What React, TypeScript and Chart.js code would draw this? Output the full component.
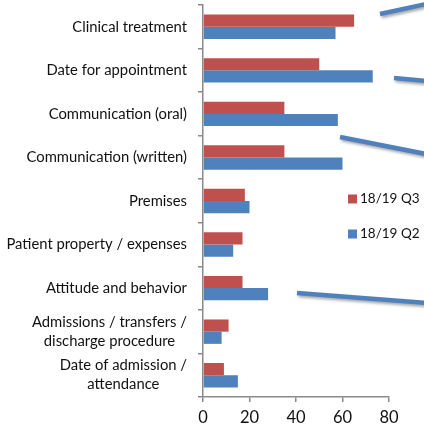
import React, { useEffect, useRef } from "react";
import { Chart, registerables } from "chart.js";

Chart.register(...registerables);

// Complaint categories (multi-line labels are arrays)
const categories: (string | string[])[] = [
  "Clinical treatment",
  "Date for appointment",
  "Communication (oral)",
  "Communication (written)",
  "Premises",
  "Patient property / expenses",
  "Attitude and behavior",
  ["Admissions / transfers /", "discharge procedure"],
  ["Date of admission /", "attendance"],
];

const seriesNames = ["18/19 Q3", "18/19 Q2"];
const q3Values = [65, 50, 35, 35, 18, 17, 17, 11, 9];
const q2Values = [57, 73, 58, 60, 20, 13, 28, 8, 15];
const xTicks = [0, 20, 40, 60, 80];

const RED = "#C0504D";
const BLUE = "#4F81BD";
const AXIS = "#8a8a8a";
const FONT = "Lato, 'Open Sans', sans-serif";

// Category labels: block right-aligned to the axis, lines centred inside the block
const categoryLabels = {
  id: "categoryLabels",
  afterDraw(chart: any) {
    const { ctx } = chart;
    const y = chart.scales.y;
    ctx.save();
    ctx.font = `14.8px ${FONT}`;
    ctx.fillStyle = "#111";
    ctx.textBaseline = "middle";
    ctx.textAlign = "center";
    const right = chart.chartArea.left - 16;
    const lh = 19;
    categories.forEach((lab, i) => {
      const lines = Array.isArray(lab) ? lab : [lab];
      const w = Math.max(...lines.map((l) => ctx.measureText(l).width));
      const cx = right - w / 2;
      const cy = y.getPixelForValue(i);
      lines.forEach((l, k) => {
        ctx.fillText(l, cx, cy - ((lines.length - 1) * lh) / 2 + k * lh);
      });
    });
    ctx.restore();
  },
};

// Legend placed inside the plot area on the right
const innerLegend = {
  id: "innerLegend",
  afterDraw(chart: any) {
    const { ctx } = chart;
    ctx.save();
    ctx.font = `13.5px ${FONT}`;
    ctx.textBaseline = "middle";
    ctx.textAlign = "left";
    const colors = [RED, BLUE];
    seriesNames.forEach((name, i) => {
      const cy = 199 + i * 35;
      ctx.fillStyle = colors[i];
      ctx.fillRect(348, cy - 4.5, 9, 9);
      ctx.fillStyle = "#111";
      ctx.fillText(name, 360, cy);
    });
    ctx.restore();
  },
};

// Connector strokes running off the right edge
const connectors = {
  id: "connectors",
  afterDraw(chart: any) {
    const { ctx } = chart;
    const segs = [
      [380, 14, 426, 4],
      [394, 78, 426, 81],
      [340, 137, 426, 154],
      [297, 293, 426, 303],
    ];
    ctx.save();
    ctx.strokeStyle = BLUE;
    ctx.lineWidth = 4.5;
    ctx.lineCap = "butt";
    ctx.shadowColor = "rgba(0,0,0,0.35)";
    ctx.shadowBlur = 3;
    ctx.shadowOffsetX = 1.5;
    ctx.shadowOffsetY = 2;
    segs.forEach(([x1, y1, x2, y2]) => {
      ctx.beginPath();
      ctx.moveTo(x1, y1);
      ctx.lineTo(x2, y2);
      ctx.stroke();
    });
    ctx.restore();
  },
};

export default function App() {
  const ref = useRef<HTMLCanvasElement>(null);

  useEffect(() => {
    if (!ref.current) return;
    const chart = new Chart(ref.current, {
      type: "bar",
      data: {
        labels: categories.map((c) => (Array.isArray(c) ? c.join(" ") : c)),
        datasets: [
          {
            label: seriesNames[0],
            data: q3Values,
            backgroundColor: RED,
            borderWidth: 0,
            categoryPercentage: 0.56,
            barPercentage: 1,
          },
          {
            label: seriesNames[1],
            data: q2Values,
            backgroundColor: BLUE,
            borderWidth: 0,
            categoryPercentage: 0.56,
            barPercentage: 1,
          },
        ],
      },
      options: {
        indexAxis: "y",
        responsive: false,
        animation: false,
        layout: { padding: { left: 0, top: 5, right: 35, bottom: 0 } },
        plugins: {
          legend: { display: false },
          tooltip: { enabled: false },
        },
        scales: {
          x: {
            min: 0,
            max: 80,
            afterBuildTicks: (s: any) => {
              s.ticks = xTicks.map((v) => ({ value: v }));
            },
            afterFit: (s: any) => {
              s.height = 29;
            },
            border: { color: AXIS, width: 1.5 },
            grid: { drawOnChartArea: false, tickLength: 5, color: AXIS, lineWidth: 1.5 },
            ticks: {
              color: "#111",
              font: { family: FONT, size: 16.5 },
              padding: 6,
              maxRotation: 0,
            },
          },
          y: {
            afterFit: (s: any) => {
              s.width = 203;
            },
            border: { color: AXIS, width: 1.5 },
            grid: { drawOnChartArea: false, tickLength: 5, color: AXIS, lineWidth: 1.5, offset: true },
            ticks: { display: false },
          },
        },
      },
      plugins: [categoryLabels, innerLegend, connectors],
    });
    return () => chart.destroy();
  }, []);

  return (
    <div style={{ position: "fixed", left: 0, top: 0, width: 424, height: 426, background: "#fff" }}>
      <canvas ref={ref} width={424} height={426} style={{ display: "block" }} />
    </div>
  );
}
